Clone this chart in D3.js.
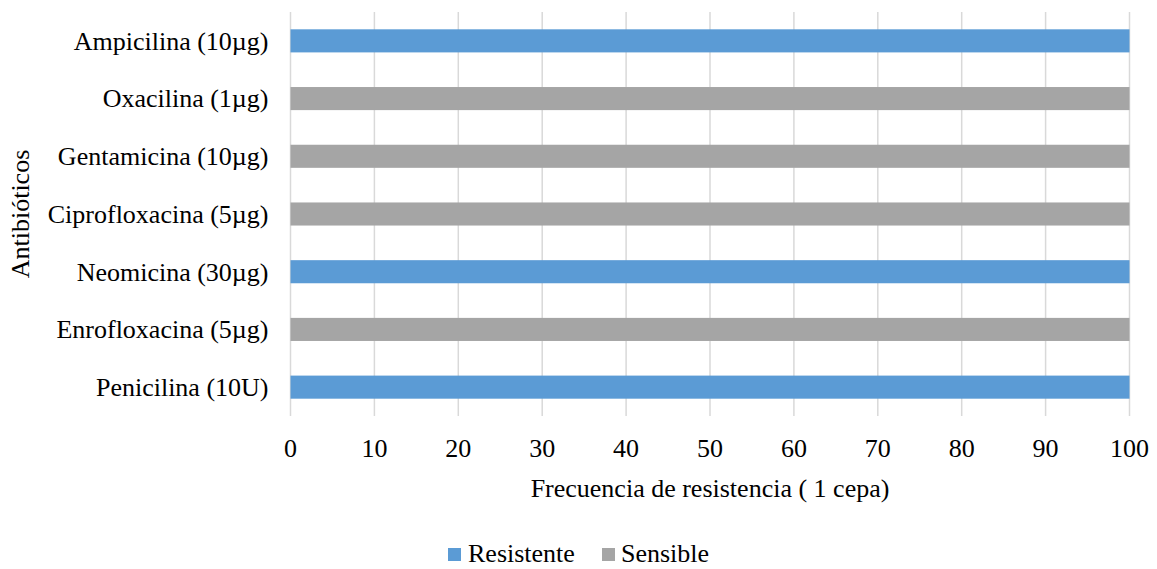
<!DOCTYPE html>
<html>
<head>
<meta charset="utf-8">
<script src="https://cdn.jsdelivr.net/npm/d3@7"></script>
<style>
  html, body { margin: 0; padding: 0; background: #fff; }
</style>
</head>
<body>
<svg id="chart" width="1157" height="569"></svg>
<script>
// Antibiotics, listed top to bottom
const categories = [
  "Ampicilina (10µg)",
  "Oxacilina (1µg)",
  "Gentamicina (10µg)",
  "Ciprofloxacina (5µg)",
  "Neomicina (30µg)",
  "Enrofloxacina (5µg)",
  "Penicilina (10U)"
];
const seriesNames = ["Resistente", "Sensible"];
const resistente = [100, 0, 0, 0, 100, 0, 100];
const sensible   = [0, 100, 100, 100, 0, 100, 0];
const xTicks = [0, 10, 20, 30, 40, 50, 60, 70, 80, 90, 100];
const colors = ["#5b9bd5", "#a5a5a5"];

const FONT = "'Liberation Serif', 'Times New Roman', Times, serif";
const FS = 26;

const svg = d3.select("#chart")
  .attr("font-family", FONT)
  .style("font-family", FONT)
  .attr("fill", "#000");
const plot = { left: 290.5, right: 1129.5, top: 12, bottom: 416 };

const x = d3.scaleLinear().domain([0, 100]).range([plot.left, plot.right]);
const y = d3.scaleBand().domain(categories).range([plot.top, plot.bottom]).paddingInner(0.6).paddingOuter(0.3);

// vertical gridlines
svg.append("g").selectAll("line").data(xTicks).join("line")
  .attr("x1", d => x(d)).attr("x2", d => x(d))
  .attr("y1", plot.top).attr("y2", plot.bottom)
  .attr("stroke", "#d9d9d9").attr("stroke-width", 1.5);

// stacked bars
const rows = categories.map((c, i) => ({ cat: c, Resistente: resistente[i], Sensible: sensible[i] }));
const stacked = d3.stack().keys(seriesNames)(rows);
svg.append("g").selectAll("g").data(stacked).join("g")
  .attr("fill", (d, i) => colors[i])
  .selectAll("rect").data(d => d).join("rect")
  .attr("x", d => x(d[0]))
  .attr("width", d => x(d[1]) - x(d[0]))
  .attr("y", d => y(d.data.cat))
  .attr("height", y.bandwidth());

// category labels
svg.append("g").selectAll("text").data(categories).join("text")
  .attr("x", plot.left - 22)
  .attr("y", d => y(d) + y.bandwidth() / 2)
  .attr("dy", "0.34em")
  .attr("text-anchor", "end")
  .attr("font-size", FS)
  .text(d => d);

// x tick labels
svg.append("g").selectAll("text").data(xTicks).join("text")
  .attr("x", d => x(d))
  .attr("y", 457)
  .attr("text-anchor", "middle")
  .attr("font-size", FS)
  .text(d => d);

// axis titles
svg.append("text")
  .attr("x", (plot.left + plot.right) / 2)
  .attr("y", 497)
  .attr("text-anchor", "middle")
  .attr("font-size", FS)
  .text("Frecuencia de resistencia ( 1 cepa)");

svg.append("text")
  .attr("transform", `translate(29, ${(plot.top + plot.bottom) / 2}) rotate(-90)`)
  .attr("text-anchor", "middle")
  .attr("font-size", FS)
  .text("Antibióticos");

// legend
const legendItems = [{ name: "Resistente", sx: 448, tx: 468 }, { name: "Sensible", sx: 602, tx: 621 }];
const lg = svg.append("g");
legendItems.forEach((d, i) => {
  lg.append("rect").attr("x", d.sx).attr("y", 548).attr("width", 13).attr("height", 13).attr("fill", colors[i]);
  lg.append("text").attr("x", d.tx).attr("y", 562).attr("font-size", FS).text(d.name);
});
</script>
</body>
</html>
